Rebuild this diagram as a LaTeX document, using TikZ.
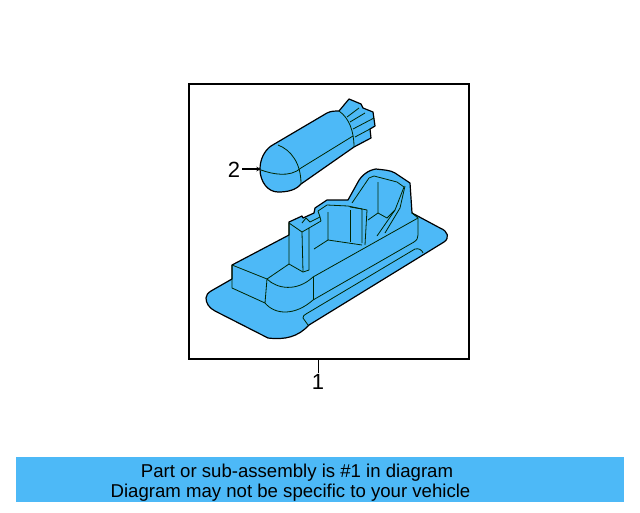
\documentclass[tikz,border=0pt]{standalone}
\usepackage{fontspec}
\setmainfont{Liberation Sans}
\definecolor{partblue}{HTML}{4DB9F7}
\begin{document}
\begin{tikzpicture}[x=1pt,y=-1pt,
    outline/.style={draw=black,line width=1.2pt,line join=round,fill=partblue},
    edge/.style={draw=black!85!green,line width=0.8pt,line join=round},
    label/.style={font=\fontsize{22}{22}\selectfont,inner sep=1pt},
    caption/.style={font=\fontsize{18.6}{18.6}\selectfont,inner sep=0pt,anchor=base}]

       \useasboundingbox (0,0) rectangle (640,512);
       \fill[white] (0,0) rectangle (640,512);
       \fill[partblue] (16,457) rectangle (624,502);
       \draw[line width=1.3pt] (189,84) rectangle (469,359);

       \node[caption] (part) at (297,477) {Part or sub-assembly is \#1 in diagram};
       \node[caption] (diagram) at (290.5,497) {Diagram may not be specific to your vehicle};

       \draw[outline] (260,169) .. controls (260,160) and (264,151) .. (271,146) -- (327,113) .. controls (331,111) and (335,111) .. (339,111)
         -- (349,99) -- (361,104) -- (363,108) -- (373,112) -- (375,126) -- (370,129) -- (371,138) -- (354,147)
         -- (301,184) .. controls (296,190) and (288,192) .. (278,192) .. controls (268,192) and (260,182) .. (260,169) -- cycle;
       \draw[edge] (339,111) .. controls (349,118) and (354,131) .. (354,147);
       \draw[edge] (347,117) -- (359,108);
       \draw[edge] (350,122) -- (365,113);
       \draw[edge] (353,129) -- (374,118);
       \draw[edge] (355,137) -- (370,129);
       \draw[edge] (278,145) .. controls (291,150) and (301,163) .. (301,184);
       \draw[edge] (261,170) .. controls (272,174) and (290,178) .. (301,168) -- (353,136);

       \draw[outline] (206,298) .. controls (206,295) and (208,293) .. (211,291) -- (232,279) -- (232,265) -- (289,235)
         -- (289,222) -- (302,216) -- (303,218) -- (314,213) -- (315,208) -- (327,200) -- (348,200)
         -- (358,182) .. controls (361,176) and (368,170) .. (376,169) .. controls (384,170) and (390,170) .. (395,173)
         -- (410,183) -- (412,213) -- (440,228) .. controls (448,231) and (450,238) .. (444,242)
         -- (309,325) .. controls (298,337) and (285,340) .. (268,338) -- (215,311) .. controls (209,308) and (206,303) .. (206,298) -- cycle;

       \draw[edge] (232,265) -- (267,279) -- (265,303);
       \draw[edge] (232,265) -- (232,288) -- (265,303) .. controls (275,315) and (295,316) .. (313,300) -- (414,242) .. controls (417,240) and (418,238) .. (418,235) -- (418,218);
       \draw[edge] (267,279) .. controls (277,289) and (297,292) .. (313,277) -- (418,218) -- (412,213);
       \draw[edge] (313,277) -- (313,300);
       \draw[edge] (267,279) -- (289,264) -- (303,272) -- (309,270);
       \draw[edge] (289,264) -- (289,223) -- (302,232) -- (309,228) -- (309,270);
       \draw[edge] (302,232) -- (303,272);
       \draw[edge] (302,223) -- (306,218) -- (310,222) -- (320,217) -- (318,211) -- (327,205) -- (348,206) -- (367,210) -- (365,245);
       \draw[edge] (309,228) -- (321,221) -- (320,217);
       \draw[edge] (350,207) -- (362,209) -- (362,243);
       \draw[edge] (328,212) -- (328,240) -- (362,245);
       \draw[edge] (328,240) -- (314,249);
       \draw[edge] (350,210) -- (350,242);
       \draw[edge] (352,203) -- (369,178) -- (374,176) -- (397,182) -- (404,187) -- (395,210) -- (377,236);
       \draw[edge] (405,186) -- (400,208) -- (385,233);
       \draw[edge] (378,182) -- (378,213) -- (368,220);
       \draw[edge] (378,213) -- (387,218) -- (395,210);
       \draw[edge] (308,325) -- (303,318) .. controls (303,316) and (304,315) .. (306,314) -- (415,249) .. controls (419,248) and (422,250) .. (423,253);

       \node[label] (two) at (234,170) {2};
       \coordinate (bulb) at (261,169);
       \draw[-stealth,line width=1.1pt] (242,169) -- (bulb);

       \node[label] (one) at (318,382) {1};
       \coordinate (frame) at (318,359);
       \draw[line width=1pt] (frame) -- (one.north);
     \end{tikzpicture}
\end{document}
